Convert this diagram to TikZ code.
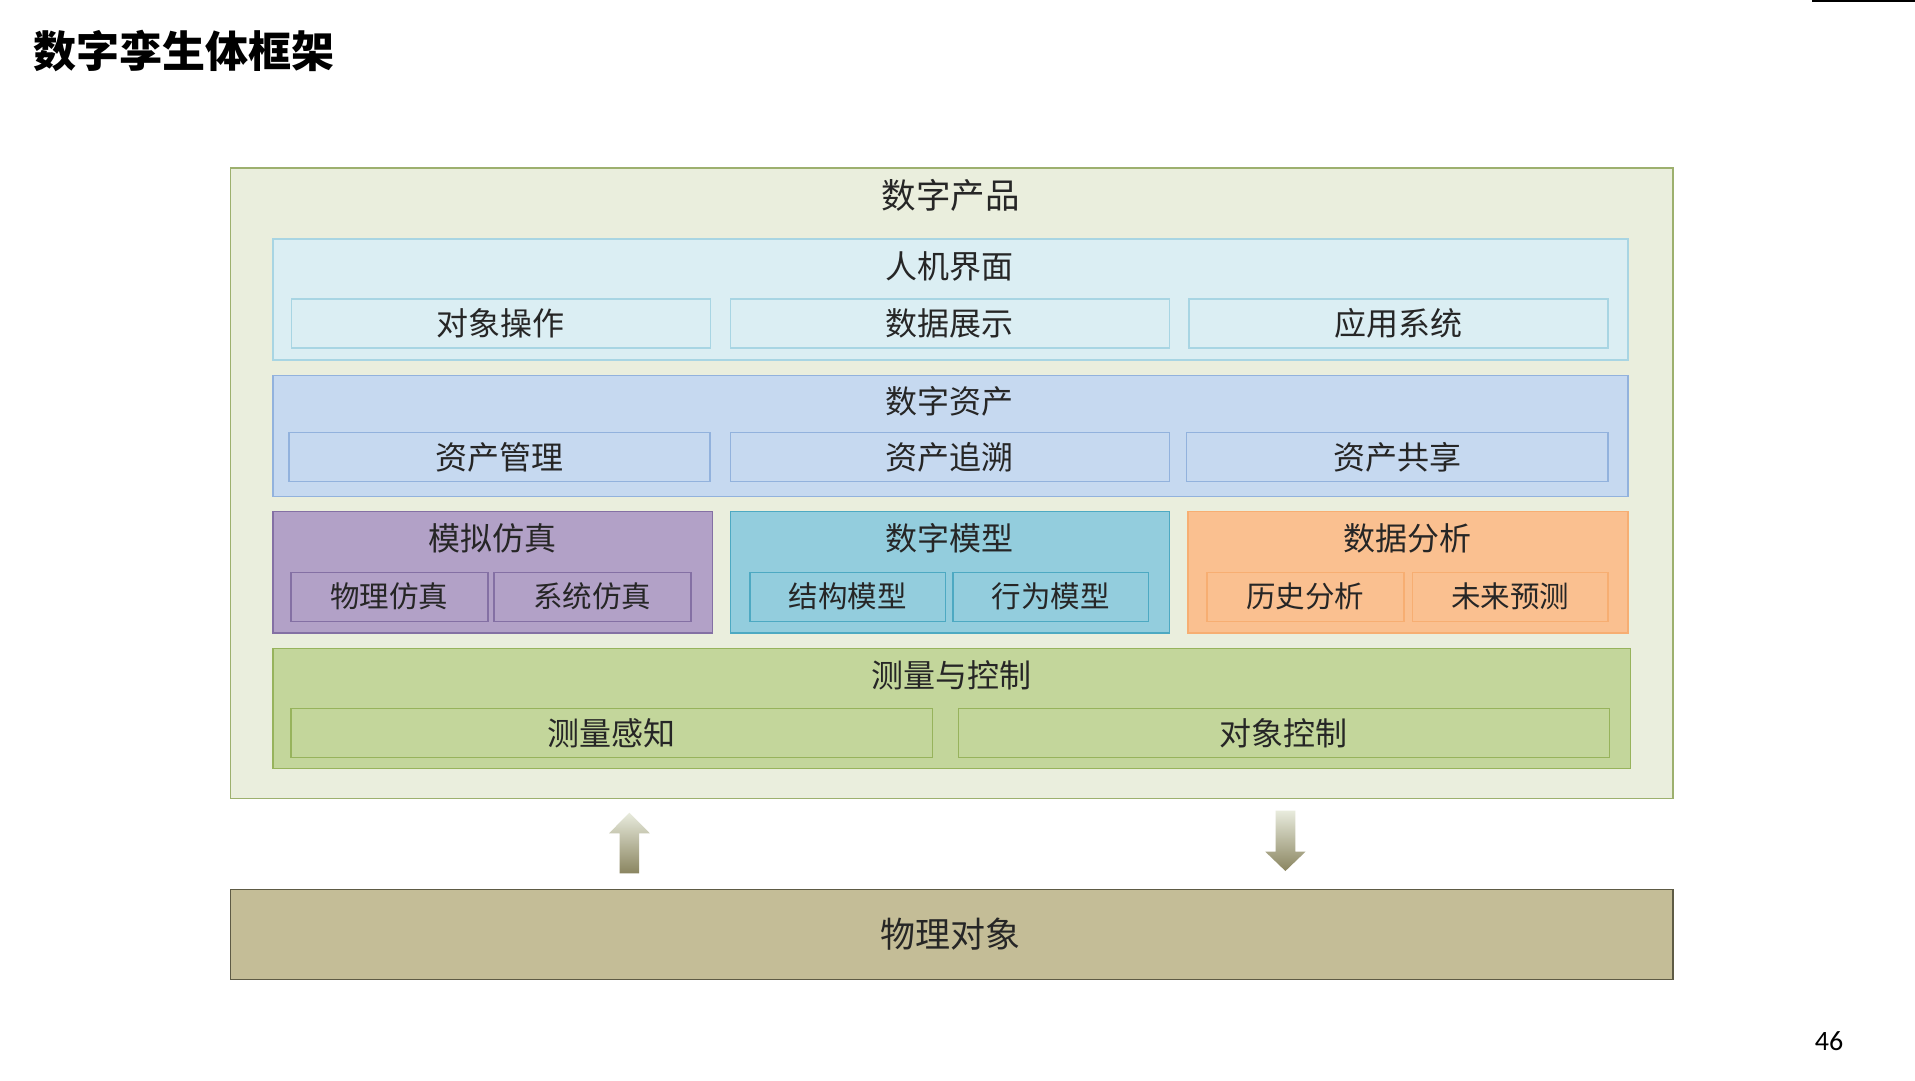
\documentclass[tikz,border=0pt]{standalone}
\usepackage{fontspec}
\setmainfont{Carlito}
\newfontfamily\cjk{Noto Sans CJK SC}
\usetikzlibrary{positioning}

\definecolor{prodfill}{HTML}{EAEEDD}
\definecolor{proddraw}{HTML}{9DB06E}
\definecolor{hmifill}{HTML}{DBEEF3}
\definecolor{hmidraw}{HTML}{A8D5E3}
\definecolor{assetfill}{HTML}{C6D9F0}
\definecolor{assetdraw}{HTML}{92B2DD}
\definecolor{simfill}{HTML}{B2A1C7}
\definecolor{simdraw}{HTML}{8470A4}
\definecolor{modelfill}{HTML}{93CDDD}
\definecolor{modeldraw}{HTML}{4DA9C2}
\definecolor{anafill}{HTML}{FAC090}
\definecolor{anadraw}{HTML}{F7AE72}
\definecolor{measfill}{HTML}{C3D69B}
\definecolor{measdraw}{HTML}{97B35C}
\definecolor{physfill}{HTML}{C4BD97}
\definecolor{physdraw}{HTML}{5E5B45}
\definecolor{arrtop}{HTML}{E8EBDD}
\definecolor{arrbot}{HTML}{8A8560}

\tikzset{
  box/.style={draw, line width=1.3pt, rectangle, inner sep=0pt, anchor=north west},
  head/.style={font=\cjk\fontsize{32}{36}\selectfont, text=black!85},
  sub/.style={box, font=\cjk\fontsize{32}{36}\selectfont, text=black!85, minimum height=49pt},
  small/.style={sub, font=\cjk\fontsize{29.5}{34}\selectfont},
}

\begin{document}
\begin{tikzpicture}[x=1pt, y=-1pt]
  % page and margins
  \fill[white] (0,0) rectangle (1915,1080);
  \useasboundingbox (0,0) rectangle (1915,1080);
  \draw[line width=4pt] (1812,0) -- (1915,0);

  % title and page number
  \node[font=\cjk\bfseries\fontsize{43}{48}\selectfont, anchor=west] (title) at (30,51) {数字孪生体框架};
  \node[font=\fontsize{28}{32}\selectfont] (page) at (1829,1041) {46};

  % outer frame
  \node[box, fill=prodfill, draw=proddraw, minimum width=1442.7pt, minimum height=630.7pt] (prod) at (229.6,167.3) {};
  \node[head, font=\cjk\fontsize{34.5}{38}\selectfont] (prod-t) at (950.8,195) {数字产品};

  % human machine interface
  \node[box, fill=hmifill, draw=hmidraw, minimum width=1355pt, minimum height=121pt] (hmi) at (272.3,238.3) {};
  \node[head] (hmi-t) at (949.8,266) {人机界面};
  \node[sub, fill=hmifill, draw=hmidraw, minimum width=419.5pt] (hmi-a) at (290.5,298.3) {对象操作};
  \node[sub, fill=hmifill, draw=hmidraw, minimum width=438.5pt] (hmi-b) at (730,298.3) {数据展示};
  \node[sub, fill=hmifill, draw=hmidraw, minimum width=419pt] (hmi-c) at (1188.3,298.3) {应用系统};

  % digital assets
  \node[box, fill=assetfill, draw=assetdraw, minimum width=1355pt, minimum height=121.3pt] (asset) at (272.3,374.7) {};
  \node[head] (asset-t) at (949.8,401.8) {数字资产};
  \node[sub, fill=assetfill, draw=assetdraw, minimum width=421pt] (asset-a) at (288.3,432) {资产管理};
  \node[sub, fill=assetfill, draw=assetdraw, minimum width=438.5pt] (asset-b) at (730,432) {资产追溯};
  \node[sub, fill=assetfill, draw=assetdraw, minimum width=421.3pt] (asset-c) at (1186,432) {资产共享};

  % simulation, model, analysis
  \node[box, fill=simfill, draw=simdraw, minimum width=439.4pt, minimum height=121.5pt] (sim) at (272.3,510.7) {};
  \node[head] (sim-t) at (492,538.6) {模拟仿真};
  \node[small, fill=simfill, draw=simdraw, minimum width=197pt] (sim-a) at (290.3,571.5) {物理仿真};
  \node[small, fill=simfill, draw=simdraw, minimum width=197pt] (sim-b) at (493.3,571.5) {系统仿真};

  \node[box, fill=modelfill, draw=modeldraw, minimum width=438.7pt, minimum height=121.5pt] (model) at (730,510.7) {};
  \node[head] (model-t) at (949.4,538.6) {数字模型};
  \node[small, fill=modelfill, draw=modeldraw, minimum width=195.4pt] (model-a) at (749.3,571.5) {结构模型};
  \node[small, fill=modelfill, draw=modeldraw, minimum width=195.4pt] (model-b) at (952.3,571.5) {行为模型};

  \node[box, fill=anafill, draw=anadraw, minimum width=440pt, minimum height=121.5pt] (ana) at (1187.3,510.7) {};
  \node[head] (ana-t) at (1407.3,538.6) {数据分析};
  \node[small, fill=anafill, draw=anadraw, minimum width=197pt] (ana-a) at (1206.3,571.5) {历史分析};
  \node[small, fill=anafill, draw=anadraw, minimum width=195.6pt] (ana-b) at (1411.7,571.5) {未来预测};

  % measurement and control
  \node[box, fill=measfill, draw=measdraw, minimum width=1357.4pt, minimum height=120pt] (meas) at (272.3,648) {};
  \node[head] (meas-t) at (951,675.4) {测量与控制};
  \node[sub, fill=measfill, draw=measdraw, minimum width=641.7pt] (meas-a) at (290.3,708) {测量感知};
  \node[sub, fill=measfill, draw=measdraw, minimum width=651.2pt] (meas-b) at (957.5,708) {对象控制};

  % physical object
  \node[box, fill=physfill, draw=physdraw, minimum width=1442.7pt, minimum height=90pt] (phys) at (229.6,889) {};
  \node[head, font=\cjk\fontsize{35}{40}\selectfont] (phys-t) at (950.8,934) {物理对象};

  % block arrows
  \shade[top color=arrtop, bottom color=arrbot] (619.7,873.3) -- (619.7,833.3) -- (609,833.3) -- (629.4,812.7) -- (649.8,833.3) -- (639.1,833.3) -- (639.1,873.3) -- cycle;
  \shade[top color=arrtop, bottom color=arrbot] (1275.6,810.7) -- (1295.4,810.7) -- (1295.4,851.7) -- (1305.5,851.7) -- (1285.4,871) -- (1265.3,851.7) -- (1275.6,851.7) -- cycle;
\end{tikzpicture}
\end{document}
